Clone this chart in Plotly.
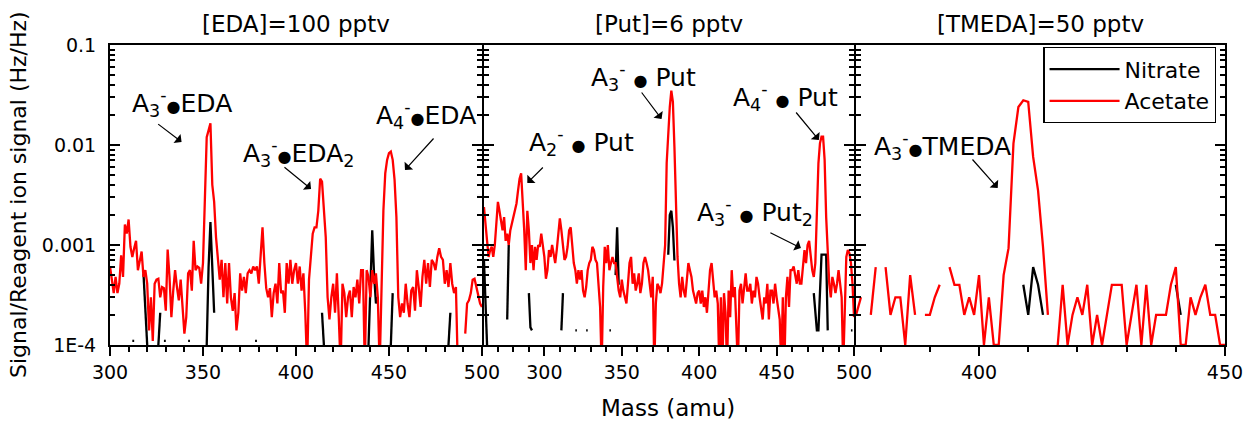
import plotly.graph_objects as go

FONT = "DejaVu Sans"

# ---- data -------------------------------------------------------------
# mass grids (amu), one point per amu
eda_mass = list(range(300, 501))
put_mass = list(range(261, 501))
tmeda_mass = list(range(375, 451))

# acetate reagent ion, signal / reagent ion signal
eda_acetate = [
    6.1e-4, 4.6e-4, 3.3e-4, 4.8e-4, 3.3e-4, 4.1e-4, 7.9e-4, 4.8e-4, 1.6e-3, 1.3e-3,
    1.8e-3, 9.6e-4, 7.6e-4, 9.3e-4, 1.1e-3, 5.6e-4, 7.1e-4, 8.6e-4, 4.8e-4, 5.6e-4,
    4.1e-4, 1.4e-4, 3.0e-4, 1.1e-4, 4.1e-4, 4.5e-4, 4.6e-4, 3.0e-4, 3.8e-4, 3.7e-4,
    2.2e-4, 9.0e-4, 4.8e-4, 1.9e-4, 3.5e-4, 5.6e-4, 3.8e-4, 2.8e-4, 4.5e-4, 2.6e-4,
    1.3e-4, 1.9e-4, 5.2e-4, 5.6e-4, 3.5e-4, 1.1e-3, 5.6e-4, 6.1e-4, 5.9e-4, 4.1e-4,
    6.6e-4, 2.8e-3, 1.2e-2, 1.4e-2, 1.65e-2, 4.0e-3, 2.7e-3, 1.2e-3, 6.6e-4, 4.5e-4,
    7.1e-4, 3.0e-4, 6.6e-4, 2.6e-4, 6.6e-4, 3.0e-4, 2.2e-4, 3.3e-4, 1.4e-4, 2.1e-4,
    5.2e-4, 3.5e-4, 4.8e-4, 3.3e-4, 5.2e-4, 5.6e-4, 5.2e-4, 6.1e-4, 5.6e-4, 6.1e-4,
    4.1e-4, 7.6e-4, 1.5e-3, 6.6e-4, 3.7e-4, 3.0e-4, 3.7e-4, 1.9e-4, 3.3e-4, 4.1e-4,
    2.6e-4, 6.6e-4, 3.3e-4, 3.5e-4, 2.1e-4, 6.6e-4, 4.1e-4, 7.1e-4, 4.1e-4, 5.6e-4,
    6.6e-4, 4.1e-4, 6.1e-4, 3.5e-4, 5.2e-4, 2.1e-4, 6e-5, 4.5e-4, 7.6e-4, 1.3e-3,
    1.5e-3, 1.5e-3, 2.2e-3, 4.6e-3, 4.3e-3, 2.2e-3, 1.2e-3, 3.0e-4, 1.8e-4, 3.0e-4,
    4.1e-4, 2.1e-4, 5.2e-4, 1.9e-4, 6e-5, 4.1e-4, 3.3e-4, 1.9e-4, 3.0e-4, 3.5e-4,
    1.9e-4, 3.8e-4, 3.0e-4, 4.5e-4, 2.6e-4, 5.6e-4, 5.6e-4, 6e-5, 5.6e-4, 4.8e-4,
    3.0e-4, 5.6e-4, 4.1e-4, 5.2e-4, 3.0e-4, 6e-5, 3.0e-4, 2.2e-3, 5.2e-3, 7.1e-3,
    8.3e-3, 8.6e-3, 7.1e-3, 4.5e-3, 1.9e-3, 3.0e-4, 1.9e-4, 2.6e-4, 2.1e-4, 4.1e-4,
    2.6e-4, 1.9e-4, 3.5e-4, 3.8e-4, 2.2e-4, 5.6e-4, 3.8e-4, 2.4e-4, 4.8e-4, 7.1e-4,
    4.1e-4, 6.6e-4, 3.8e-4, 7.1e-4, 6.6e-4, 5.6e-4, 7.6e-4, 9.3e-4, 7.6e-4, 7.1e-4,
    4.1e-4, 5.6e-4, 3.8e-4, 6.6e-4, 4.1e-4, 3.3e-4, 3.8e-4, 6e-5, None, None,
    None, 1.3e-4, 2.6e-4, 2.8e-4, 3.3e-4, 4.5e-4, 4.6e-4, 3.8e-4, 3.0e-4, 2.6e-4,
    2.4e-4,
]

put_acetate = [
    2.4e-3, 1.5e-3, 1.1e-3, 7.6e-4, 8.9e-4, 9.6e-4, 7.6e-4, 1.0e-3, 1.9e-3, 2.7e-3,
    2.2e-3, 1.65e-3, 1.4e-3, 1.9e-3, 1.1e-3, 1.3e-3, 1.0e-3, 1.4e-3, 1.65e-3, 1.8e-3,
    2.2e-3, 2.6e-3, 3.5e-3, 4.6e-3, 5.2e-3, 3.0e-3, 1.4e-3, 5.6e-4, 2.2e-3, 1.4e-3,
    6.6e-4, 1.0e-3, 5.6e-4, 9.6e-4, 7.1e-4, 1.0e-3, 9.6e-4, 1.3e-3, 1.0e-3, 7.6e-4,
    4.6e-4, 5.6e-4, 8.9e-4, 7.6e-4, 1.0e-3, 7.6e-4, 6.6e-4, 8.9e-4, 1.4e-3, 1.85e-3,
    1.4e-3, 1.0e-3, 7.1e-4, 7.6e-4, 9.6e-4, 1.4e-3, 1.5e-3, 1.0e-3, 6.6e-4, 5.6e-4,
    4.1e-4, 5.6e-4, 4.5e-4, 5.6e-4, 3.5e-4, 3.0e-4, 3.8e-4, 5.6e-4, 6.6e-4, 7.1e-4,
    9.6e-4, 8.9e-4, 7.1e-4, 6.6e-4, 4.1e-4, 2.4e-4, 6e-5, 3.8e-4, 9.6e-4, 6.6e-4,
    1.0e-3, 5.6e-4, 6.6e-4, 7.6e-4, 6.6e-4, 6.6e-4, 4.8e-4, 3.5e-4, 3.0e-4, 4.5e-4,
    3.5e-4, 3.0e-4, 2.6e-4, 4.1e-4, 6.6e-4, 7.6e-4, 4.1e-4, 5.2e-4, 3.5e-4, 4.1e-4,
    5.2e-4, 3.3e-4, 4.1e-4, 6.6e-4, 7.6e-4, 6.6e-4, 5.6e-4, 4.1e-4, 3.0e-4, 4.8e-4,
    6e-5, 2.6e-4, 4.1e-4, 3.8e-4, 3.3e-4, 4.1e-4, 6.6e-4, 1.0e-3, 6.6e-3, 1.4e-2,
    2.4e-2, 3.5e-2, 2.7e-2, 9.6e-3, 1.9e-3, 7.6e-4, 4.1e-4, 3.0e-4, 4.8e-4, 3.5e-4,
    3.0e-4, 4.8e-4, 6.6e-4, 5.6e-4, 4.8e-4, 3.5e-4, 3.0e-4, 2.6e-4, 3.3e-4, 3.5e-4,
    2.6e-4, 3.5e-4, 2.4e-4, 3.0e-4, 2.1e-4, 3.3e-4, 5.6e-4, 6.6e-4, 4.8e-4, 3.0e-4,
    3.5e-4, 2.6e-4, 6e-5, 3.0e-4, 6e-5, 3.3e-4, 2.1e-4, 6e-5, 3.5e-4, 1.9e-4,
    5.6e-4, 3.0e-4, 3.8e-4, 1.9e-4, 6e-5, 3.5e-4, 4.1e-4, 2.6e-4, 3.5e-4, 5.2e-4,
    3.5e-4, 3.5e-4, 4.1e-4, 2.6e-4, 3.5e-4, 3.0e-4, 4.8e-4, 4.1e-4, 3.0e-4, 2.4e-4,
    1.8e-4, 3.0e-4, 2.6e-4, 4.1e-4, 1.8e-4, 3.5e-4, 3.5e-4, 2.6e-4, 4.1e-4, 3.0e-4,
    2.4e-4, 1.8e-4, 6e-5, 3.0e-4, 6e-5, 3.0e-4, 4.8e-4, 2.4e-4, 5.6e-4, 5.6e-4,
    6.1e-4, 4.8e-4, 4.1e-4, 5.6e-4, 4.1e-4, 4.1e-4, 6.6e-4, 8.9e-4, 6.6e-4, 1.0e-3,
    1.1e-3, 7.6e-4, 5.6e-4, 4.8e-4, 6.6e-4, 2.1e-3, 6.6e-3, 1.04e-2, 1.21e-2, 1.21e-2,
    7.1e-3, 1.9e-3, 7.1e-4, 4.1e-4, 3.0e-4, 4.8e-4, 4.1e-4, 3.3e-4, 4.1e-4, 5.6e-4,
    4.1e-4, 3.0e-4, 6e-5, 2.4e-4, 7.6e-4, 8.9e-4, 8.3e-4, 6.6e-4, 4.1e-4, 1.9e-4,
]

tmeda_acetate = [
    2e-4, 3e-4, None, 2e-4, 6e-4, None, 6e-4, 2e-4, 3e-4, 3e-4,
    1e-4, 5e-4, 2e-4, None, 2e-4, 2e-4, 3e-4, 4e-4, None, 6e-4,
    4e-4, 4e-4, 2e-4, 3e-4, 2e-4, 5e-4, 1e-4, 3e-4, 1e-4, 1e-4,
    5e-4, 9.3e-4, 1.04e-2, 2.4e-2, 2.8e-2, 2.7e-2, 7.6e-3, 3.5e-3, 9.6e-4, 2e-4,
    None, 1e-4, 4e-4, 1e-4, 2e-4, 3e-4, 2e-4, 4e-4, 1e-4, 2e-4,
    1e-4, 2e-4, 4e-4, 4e-4, 4e-4, 1e-4, 2e-4, 4e-4, 1e-4, 4e-4,
    1e-4, 2e-4, 2e-4, 2e-4, 4e-4, 6e-4, 1e-4, 1e-4, 3e-4, 2e-4,
    3e-4, 4e-4, 2e-4, 2e-4, 1e-4, 1e-4,
]

# nitrate reagent ion: mostly zero, only short segments (None breaks the line)
eda_nitrate_mass = [312, 313, None, 318, 319, 320, None, 326, 327, None, 329, 330, None,
                    342, 343, None, 352, 353, 354, 355, 356, None, 378, 379, None,
                    414, 415, None, 439, 440, 441, 442, 443, 444, None, 451, 452, None,
                    482, 483]
eda_nitrate = [1.1e-4, 1.1e-4, None, 5.2e-4, 2.2e-4, 1e-4, None, 1e-4, 2.1e-4, None, 1.1e-4, 1.1e-4, None,
               1.1e-4, 1.1e-4, None, 1e-4, 6e-4, 1.7e-3, 5e-4, 2.1e-4, None, 1.1e-4, 1.1e-4, None,
               2.1e-4, 1e-4, None, 1e-4, 3e-4, 1.4e-3, 5e-4, 2.6e-4, 3e-4, None, 1e-4, 3.3e-4, None,
               1e-4, 2.1e-4]

put_nitrate_mass = [261, 262, 263, None, 276, 277, None, 290, 291, 292, None, 311, 312, None,
                    320, 321, None, 327, 328, None, 342, 343, None, 346, 347, 348, None,
                    380, 381, 382, 383, 384, None, 474, 475, 476, 477, 478, 479, 480, 481,
                    482, 483, None, 498, 499]
put_nitrate = [7e-4, 2.5e-4, 1e-4, None, 1.8e-4, 1e-3, None, 3.3e-4, 1.5e-4, 1.4e-4, None, 1.4e-4, 3.3e-4, None,
               1.4e-4, 1.4e-4, None, 1.4e-4, 1.4e-4, None, 1.4e-4, 1.4e-4, None, 5e-4, 1.5e-3, 4e-4, None,
               8e-4, 2e-3, 2.2e-3, 1.5e-3, 7e-4, None, 3.3e-4, 2e-4, 1.4e-4, 1.4e-4, 4e-4, 8e-4, 8e-4, 8e-4,
               8e-4, 1.4e-4, None, 1.4e-4, 1.4e-4]

tmeda_nitrate_mass = [409, 410, 411, 412, 413, None, 440, 441]
tmeda_nitrate = [4e-4, 2e-4, 6e-4, 4e-4, 2e-4, None, 4e-4, 2e-4]

panel_titles = ["[EDA]=100 pptv", "[Put]=6 pptv", "[TMEDA]=50 pptv"]
y_tickvals = [1e-4, 1e-3, 1e-2, 1e-1]
y_ticktext = ["1E-4", "0.001", "0.01", "0.1"]

DOT = "<span style='font-size:16px'>\u25cf</span>"

# (panel, label, text x, text log10 y, arrow tail x, tail log y, head x, head log y)
labels = [
    (1, "A<sub>3</sub><sup>-</sup>" + DOT + "EDA", 338.7, -1.58, 325.1, -1.78, 338.5, -1.97),
    (1, "A<sub>3</sub><sup>-</sup>" + DOT + "EDA<sub>2</sub>", 401.6, -2.08, 393.0, -2.21, 408.1, -2.44),
    (1, "A<sub>4</sub><sup>-</sup>" + DOT + "EDA", 469.9, -1.70, 474.7, -1.92, 458.6, -2.25),
    (2, "A<sub>2</sub><sup>-</sup> " + DOT + " Put", 323.9, -1.97, 300.0, -2.21, 289.0, -2.38),
    (2, "A<sub>3</sub><sup>-</sup> " + DOT + " Put", 364.1, -1.32, 362.1, -1.46, 375.7, -1.74),
    (2, "A<sub>4</sub><sup>-</sup> " + DOT + " Put", 456.0, -1.52, 461.8, -1.66, 477.3, -1.95),
    (2, "A<sub>3</sub><sup>-</sup> " + DOT + " Put<sub>2</sub>", 435.9, -2.67, 445.0, -2.87, 465.7, -3.03),
    (3, "A<sub>3</sub><sup>-</sup>" + DOT + "TMEDA", 392.5, -2.01, 398.4, -2.13, 403.8, -2.43),
]


def create_figure():
    fig = go.Figure()
    fig.update_layout(width=1246, height=427, template="none",
                      paper_bgcolor="white", plot_bgcolor="white",
                      margin=dict(l=110, r=21, t=45, b=82, pad=0, autoexpand=False),
                      font=dict(family=FONT, size=19, color="black"))
    return fig


def plot(fig):
    panels = [(eda_mass, eda_acetate, eda_nitrate_mass, eda_nitrate),
              (put_mass, put_acetate, put_nitrate_mass, put_nitrate),
              (tmeda_mass, tmeda_acetate, tmeda_nitrate_mass, tmeda_nitrate)]
    for i, (mass, acetate, n_mass, nitrate) in enumerate(panels):
        xa = "x" if i == 0 else "x%d" % (i + 1)
        ya = "y" if i == 0 else "y%d" % (i + 1)
        fig.add_trace(go.Scatter(x=n_mass, y=nitrate, mode="lines", name="Nitrate",
                                 line=dict(color="black", width=2.3), legendgroup="n",
                                 showlegend=(i == 0), xaxis=xa, yaxis=ya))
        fig.add_trace(go.Scatter(x=mass, y=acetate, mode="lines", name="Acetate",
                                 line=dict(color="#ff0000", width=2.3), legendgroup="a",
                                 showlegend=(i == 0), xaxis=xa, yaxis=ya))


def style_axes(fig):
    # 2 px gap so neighbouring box lines land on the same pixels
    domains = [[0, 0.3336], [0.3354, 0.6673], [0.6691, 1]]
    ranges = [[300, 500], [261, 500], [375, 450]]
    for i in range(3):
        sx = "xaxis" if i == 0 else "xaxis%d" % (i + 1)
        sy = "yaxis" if i == 0 else "yaxis%d" % (i + 1)
        xname = "x" if i == 0 else "x%d" % (i + 1)
        yname = "y" if i == 0 else "y%d" % (i + 1)
        fig.update_layout({
            sx: dict(domain=domains[i], range=ranges[i], anchor=yname, automargin=False,
                     showline=True, linecolor="black", linewidth=2, mirror=True,
                     ticks="outside", ticklen=9, tickwidth=2, tickcolor="black",
                     tick0=300, dtick=50, showgrid=False, zeroline=False,
                     tickfont=dict(size=19),
                     minor=dict(ticks="outside", ticklen=5, tickwidth=1.5, tickcolor="black",
                                tick0=300, dtick=10, showgrid=False)),
            sy: dict(type="log", range=[-4, -1], anchor=xname, domain=[0, 1], automargin=False,
                     showline=True, linecolor="black", linewidth=2, mirror="ticks",
                     ticks="inside", ticklen=10, tickwidth=2, tickcolor="black",
                     tickvals=y_tickvals, ticktext=y_ticktext, showticklabels=(i == 0),
                     showgrid=False, zeroline=False, tickfont=dict(size=19),
                     ticklabelstandoff=8,
                     minor=dict(ticks="inside", ticklen=5, tickwidth=1.5, tickcolor="black",
                                dtick="D1", showgrid=False)),
        })


def annotate(fig):
    for i, title in enumerate(panel_titles):
        xname = "x" if i == 0 else "x%d" % (i + 1)
        fig.add_annotation(text=title, xref=xname + " domain", yref="paper", x=0.5, y=1.0,
                           xanchor="center", yanchor="bottom", yshift=6, showarrow=False,
                           font=dict(size=23))
    for panel, text, tx, ty, ax, ay, hx, hy in labels:
        xname = "x" if panel == 1 else "x%d" % panel
        yname = "y" if panel == 1 else "y%d" % panel
        fig.add_annotation(text=text, xref=xname, yref=yname, x=tx, y=ty,
                           xanchor="center", yanchor="middle", showarrow=False,
                           font=dict(size=25))
        fig.add_annotation(text="", xref=xname, yref=yname, x=hx, y=hy,
                           axref=xname, ayref=yname, ax=ax, ay=ay, showarrow=True,
                           arrowhead=1, arrowsize=1.6, arrowwidth=1.2, arrowcolor="black",
                           standoff=0, startstandoff=0)
    fig.add_annotation(text="Mass (amu)", xref="paper", yref="paper", x=0.5, y=-0.21,
                       xanchor="center", yanchor="middle", showarrow=False, font=dict(size=23))
    fig.add_annotation(text="Signal/Reagent ion signal (Hz/Hz)", xref="paper", yref="paper",
                       x=-0.0825, y=0.5, xanchor="center", yanchor="middle", textangle=-90,
                       showarrow=False, font=dict(size=22))


def touch_up(fig):
    fig.update_layout(showlegend=True,
                      legend=dict(x=0.837, y=0.993, xanchor="left", yanchor="top",
                                  bgcolor="white", bordercolor="black", borderwidth=1.3,
                                  font=dict(size=22), tracegroupgap=0, itemwidth=70))


def main():
    fig = create_figure()
    plot(fig)
    style_axes(fig)
    annotate(fig)
    touch_up(fig)
    # drop the browser's default 8px page margin so the figure sits at the top-left corner
    fig.write_html("out.html", config={"displayModeBar": False},
                   post_script="document.body.style.margin='0px';")


main()
